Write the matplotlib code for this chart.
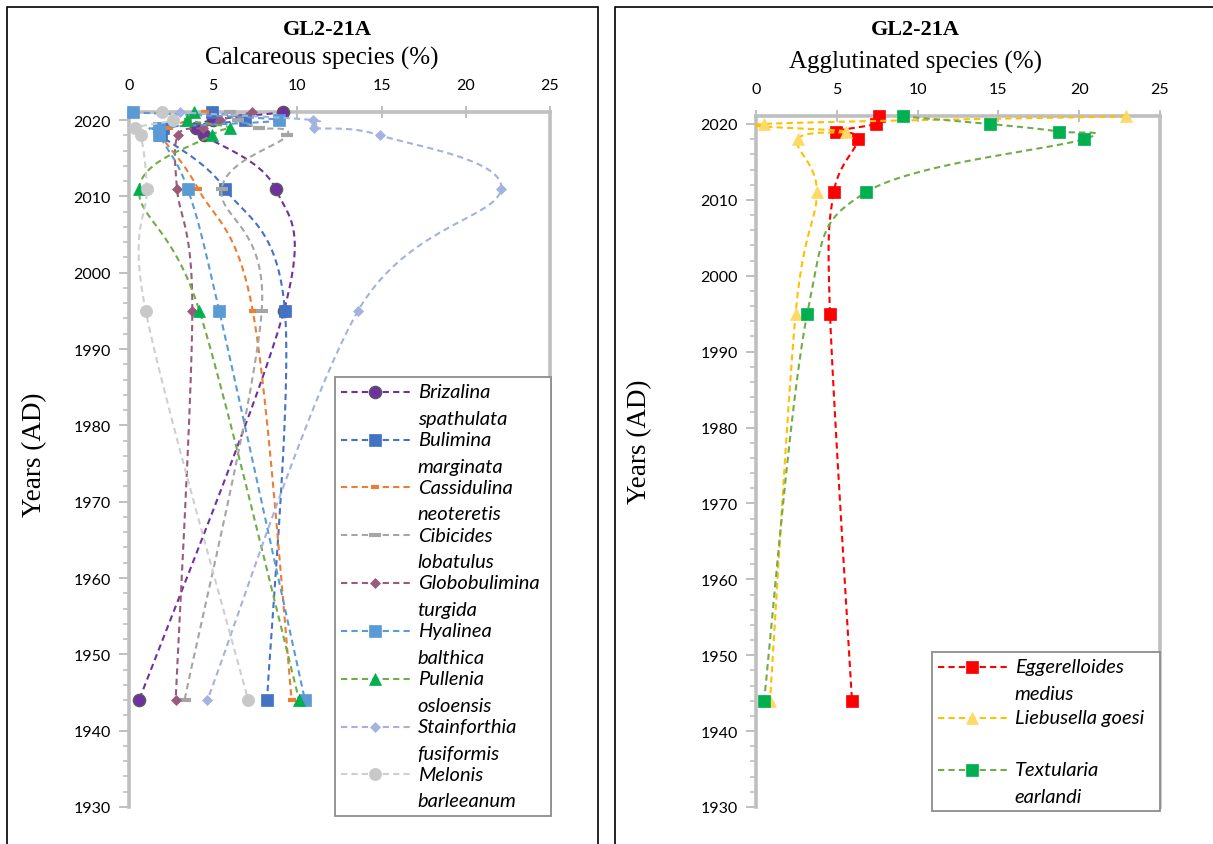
import numpy as np
import matplotlib
matplotlib.use("Agg")
import matplotlib.pyplot as plt
from matplotlib.lines import Line2D
from matplotlib.patches import Rectangle
from matplotlib.legend_handler import HandlerLine2D
from matplotlib.ticker import MultipleLocator

# ---- data -------------------------------------------------------------
years = [2021, 2020, 2019, 2018, 2011, 1995, 1944]

# calcareous species (%)
brizalina = [9.15, 5.0, 4.0, 4.45, 8.7, 9.2, 0.6]
bulimina = [4.9, 6.9, 2.0, 1.9, 5.7, 9.26, 8.2]
cassidulina = [4.5, 3.5, 2.4, 1.9, 4.1, 7.35, 9.66]
cibicides = [6.0, 6.5, 7.7, 9.4, 5.5, 7.88, 3.3]
globobulimina = [7.3, 5.4, 4.4, 2.9, 2.85, 3.76, 2.77]
hyalinea = [0.25, 8.9, 1.8, 1.8, 3.48, 5.36, 10.45]
pullenia = [3.86, 3.47, 6.0, 4.9, 0.6, 4.18, 10.1]
stainforthia = [3.0, 10.9, 10.97, 14.9, 22.1, 13.6, 4.65]
melonis = [1.95, 2.6, 0.35, 0.7, 1.05, 0.99, 7.08]

# agglutinated species (%)
eggerelloides = [7.63, 7.41, 4.97, 6.31, 4.81, 4.58, 5.94]
liebusella = [22.9, 0.5, 5.6, 2.58, 3.77, 2.45, 0.87]
textularia = [9.08, 14.5, 18.75, 20.3, 6.8, 3.17, 0.5]

calc_labels = ["Brizalina\nspathulata", "Bulimina\nmarginata", "Cassidulina\nneoteretis",
               "Cibicides\nlobatulus", "Globobulimina\nturgida", "Hyalinea\nbalthica",
               "Pullenia\nosloensis", "Stainforthia\nfusiformis", "Melonis\nbarleeanum"]
aggl_labels = ["Eggerelloides\nmedius", "Liebusella goesi\n ", "Textularia\nearlandi"]

x_ticks = [0, 5, 10, 15, 20, 25]

# ---- styles -----------------------------------------------------------
# (line colour, marker, marker face, marker size, marker edge, edge width)
calc_styles = [
    ("#7030A0", "o", "#7030A0", 8.8, "#5a5a5a", 1.0),
    ("#4472C4", "s", "#4472C4", 8.8, "#4472C4", 0.5),
    ("#ED7D31", "_", "#ED7D31", 6.0, "#ED7D31", 3.0),
    ("#A5A5A5", "_", "#A5A5A5", 8.0, "#A5A5A5", 3.0),
    ("#9A5B7A", "D", "#9A5B7A", 5.0, "#9A5B7A", 0.5),
    ("#5B9BD5", "s", "#5B9BD5", 8.8, "#5B9BD5", 0.5),
    ("#70AD47", "^", "#00B050", 8.8, "#00B050", 0.5),
    ("#A3B2DE", "D", "#A3B2DE", 5.5, "#A3B2DE", 0.5),
    ("#CFCFCF", "o", "#C8C8C8", 8.8, "#C8C8C8", 0.5),
]
aggl_styles = [
    ("#FF0000", "s", "#FF0000", 8.8, "#FF0000", 0.5),
    ("#FFC000", "^", "#FFD966", 8.8, "#FFD966", 0.5),
    ("#70AD47", "s", "#00B050", 8.8, "#00B050", 0.5),
]

AXIS_GREY = "#BFBFBF"
SANS = ["Lato", "DejaVu Sans"]
SERIF = ["Liberation Serif", "DejaVu Serif"]
DASH = (0, (3.0, 2.0))
LEG_SIZE = 14.5


def smooth_path(xs, ys, sx, sy, n=40):
    """Bezier smoothing through the points (Catmull-Rom style control points),
    computed in pixel-like units so both axes are treated evenly."""
    P = np.column_stack([np.asarray(xs, float) * sx, np.asarray(ys, float) * sy])
    m = len(P)
    t = np.linspace(0, 1, n)[:, None]
    parts = []
    for i in range(m - 1):
        p0 = P[i - 1] if i > 0 else P[i]
        p1, p2 = P[i], P[i + 1]
        p3 = P[i + 2] if i + 2 < m else P[i + 1]
        c1 = p1 + (p2 - p0) / 6.0
        c2 = p2 - (p3 - p1) / 6.0
        seg = (1 - t) ** 3 * p1 + 3 * (1 - t) ** 2 * t * c1 + 3 * (1 - t) * t ** 2 * c2 + t ** 3 * p2
        parts.append(seg if i == 0 else seg[1:])
    Q = np.vstack(parts)
    return Q[:, 0] / sx, Q[:, 1] / sy


class FirstLineHandler(HandlerLine2D):
    """Legend handle placed beside the first line of a two-line label."""

    def __init__(self, shift, **kw):
        super().__init__(**kw)
        self.shift = shift

    def create_artists(self, legend, orig_handle, xdescent, ydescent, width, height,
                       fontsize, trans):
        arts = super().create_artists(legend, orig_handle, xdescent, ydescent,
                                      width, height, fontsize, trans)
        for a in arts:
            a.set_ydata(np.asarray(a.get_ydata(), float) + self.shift)
        return arts


def style_axes(ax):
    ax.set_xlim(0, 25)
    ax.set_ylim(1930, 2021)
    ax.xaxis.tick_top()
    ax.set_xticks(x_ticks)
    ax.yaxis.set_major_locator(MultipleLocator(10))
    ax.yaxis.set_minor_locator(MultipleLocator(2))
    for side in ("top", "left", "right"):
        ax.spines[side].set_color(AXIS_GREY)
        ax.spines[side].set_linewidth(2.6)
        ax.spines[side].set_zorder(1)
    ax.spines["bottom"].set_visible(False)
    ax.tick_params(axis="x", which="major", direction="inout", length=9, width=1.4,
                   color=AXIS_GREY, pad=10.5, labelsize=11.5, labelcolor="black")
    ax.tick_params(axis="y", which="major", direction="out", length=7, width=1.4,
                   color=AXIS_GREY, pad=6, labelsize=11.5, labelcolor="black")
    ax.tick_params(axis="y", which="minor", direction="out", length=4.5, width=1.2,
                   color=AXIS_GREY)
    ax.tick_params(axis="y", which="both", right=False)
    for lab in ax.get_xticklabels() + ax.get_yticklabels():
        lab.set_family(SANS)
    ax.set_facecolor("none")


def draw_series(ax, series, styles, sx, sy):
    handles = []
    for k, (vals, st) in enumerate(zip(series, styles)):
        lc, mk, mf, ms, me, mew = st
        sxs, sys_ = smooth_path(vals, years, sx, sy)
        ax.plot(sxs, sys_, color=lc, lw=1.5, ls=DASH, zorder=3 + k * 0.1, clip_on=False)
        ax.plot(vals, years, ls="none", marker=mk, ms=ms, mfc=mf, mec=me, mew=mew,
                zorder=3.05 + k * 0.1, clip_on=False)
        handles.append(Line2D([], [], color=lc, lw=1.5, ls=DASH, marker=mk, ms=ms,
                              mfc=mf, mec=me, mew=mew))
    return handles


def add_legend(ax, handles, labels, x0, y0, x1, spacing):
    leg = ax.legend(handles, labels, loc="upper left",
                    bbox_to_anchor=(fx(x0), fy(y0), fx(x1 - x0), 0.0),
                    bbox_transform=fig.transFigure, mode="expand", borderaxespad=0,
                    prop={"family": SANS, "style": "italic", "size": LEG_SIZE},
                    handlelength=3.4, handletextpad=0.4, labelspacing=spacing, borderpad=0.3,
                    fancybox=False, framealpha=1, edgecolor="#8C8C8C",
                    handler_map={Line2D: FirstLineHandler(9.4)})
    leg.get_frame().set_linewidth(1.3)
    leg.set_zorder(10)
    for t in leg.get_texts():
        t.set_linespacing(1.70)
    return leg


W, H = 1213, 845
fig = plt.figure(figsize=(W / 100, H / 100), dpi=100)


def fx(px):
    return px / W


def fy(py):
    return 1 - py / H


# panel frames
fig.add_artist(Rectangle((fx(7), fy(852)), fx(598 - 7), (852 - 8) / H, transform=fig.transFigure,
                         fill=False, ec="black", lw=1.2))
fig.add_artist(Rectangle((fx(615), fy(852)), fx(1220 - 615), (852 - 8) / H, transform=fig.transFigure,
                         fill=False, ec="black", lw=1.2))

# ---- calcareous panel --------------------------------------------------
ax1 = fig.add_axes([fx(129), fy(808), fx(550 - 129), (808 - 113.4) / H])
style_axes(ax1)
calc_series = [brizalina, bulimina, cassidulina, cibicides, globobulimina,
               hyalinea, pullenia, stainforthia, melonis]
h1 = draw_series(ax1, calc_series, calc_styles, 421 / 25, 694.6 / 91)

fig.text(fx(327), fy(30), "GL2-21A", ha="center", va="center", family=SERIF,
         fontsize=16, fontweight="bold")
fig.text(fx(322), fy(58), "Calcareous species (%)", ha="center", va="center",
         family=SERIF, fontsize=18)
fig.text(fx(35), fy(455), "Years (AD)", ha="center", va="center", rotation=90,
         family=SERIF, fontsize=19.5)

add_legend(ax1, h1, calc_labels, 335, 378, 551, 0.2)

# ---- agglutinated panel ------------------------------------------------
ax2 = fig.add_axes([fx(756), fy(808), fx(1160 - 756), (808 - 117.4) / H])
style_axes(ax2)
aggl_series = [eggerelloides, liebusella, textularia]
h2 = draw_series(ax2, aggl_series, aggl_styles, 404 / 25, 690.6 / 91)

fig.text(fx(915), fy(30), "GL2-21A", ha="center", va="center", family=SERIF,
         fontsize=16, fontweight="bold")
fig.text(fx(916), fy(62), "Agglutinated species (%)", ha="center", va="center",
         family=SERIF, fontsize=18)
fig.text(fx(640), fy(442), "Years (AD)", ha="center", va="center", rotation=90,
         family=SERIF, fontsize=19.5)

add_legend(ax2, h2, aggl_labels, 932, 653, 1160, 0.38)

fig.savefig("out.png", dpi=100, facecolor="white")
